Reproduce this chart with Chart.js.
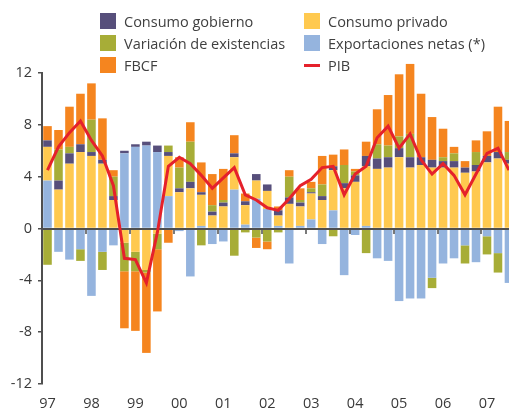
<!DOCTYPE html>
<html>
<head>
<meta charset="utf-8">
<script src="https://cdn.jsdelivr.net/npm/chart.js@4"></script>
<style>
  html, body { margin: 0; padding: 0; overflow: hidden; background: #fff; }
  #wrap { position: relative; width: 520px; height: 410px; }
  #legend {
    position: absolute; left: 100px; top: 13px;
    display: grid; grid-template-columns: 204px auto; row-gap: 6px;
    font-family: "Open Sans", sans-serif; font-size: 14.5px; color: #404040;
  }
  .item { display: flex; align-items: center; height: 16px; white-space: nowrap; }
  .sw { width: 16px; height: 16px; margin-right: 8px; flex: none; }
  .sw.line { height: 3px; }
</style>
</head>
<body>
<div id="wrap">
  <canvas id="chart"></canvas>
  <div id="legend"></div>
</div>
<script>
  const years = ['97','98','99','00','01','02','03','04','05','06','07'];
  const nQuarters = 43; // 97 I - 07 III

  const exportaciones = [3.7,-1.8,-2.4,-1.6,-5.2,-1.8,-1.3,5.8,6.3,6.4,5.9,2.5,-0.2,-3.7,0.2,-1.2,-1.0,3.0,0.3,2.3,1.5,0.2,-2.7,0.2,0.7,-1.2,1.4,-3.6,-0.5,0.2,-2.3,-2.5,-5.6,-5.4,-5.4,-3.8,-2.7,-2.3,-1.3,-2.6,-0.6,-1.9,-4.2];
  const privado = [2.6,3.0,5.0,5.9,5.6,5.0,2.2,-1.1,-1.8,-3.2,-0.4,3.1,2.8,3.1,2.4,1.0,1.7,2.5,1.5,1.4,1.4,0.8,1.9,1.5,2.0,2.2,3.1,3.1,3.6,4.6,4.6,4.7,5.5,4.7,4.9,4.7,4.7,4.7,4.3,4.4,5.1,5.4,5.0];
  const gobierno = [0.5,0.7,0.8,0.6,0.3,0.3,0.3,0.2,0.2,0.3,0.5,0.3,0.3,0.5,0.2,0.3,0.3,0.3,0.3,0.5,0.5,0.4,0.5,0.3,0.1,0.3,0.3,0.4,0.5,0.8,0.8,0.8,0.7,0.8,0.6,0.6,0.5,0.5,0.4,0.5,0.5,0.5,0.3];
  const existencias = [-2.8,2.4,0.5,-0.9,2.5,-1.4,1.5,-2.2,-1.5,-0.2,-1.2,0.5,1.6,3.1,-1.3,0.5,0.2,-2.1,-0.3,-0.7,-1.0,-0.3,1.6,0.2,0.3,0.9,-0.6,1.4,0.3,-1.9,1.1,0.9,0.9,1.8,0,-0.8,0.3,0.6,-1.4,1.0,-1.4,-1.5,0.6];
  const fbcf = [1.1,1.5,3.1,3.9,2.8,3.2,0.5,-4.4,-4.6,-6.2,-4.8,-1.1,0.8,1.5,2.3,2.4,2.4,1.4,0.6,-0.8,-0.6,0.3,0.5,0.9,0.5,2.2,0.9,1.2,0.2,1.1,2.7,3.9,4.8,5.4,4.9,3.3,2.2,0.5,0.5,0.9,1.9,3.5,2.4];
  const pib = [4.5,6.3,7.4,8.3,6.8,5.6,3.3,-2.3,-2.4,-4.2,-0.3,4.8,5.5,5.0,4.1,3.1,3.9,4.7,2.6,2.2,1.6,1.4,2.3,3.3,3.8,4.7,4.8,2.6,4.2,4.8,7.0,7.9,6.2,7.3,5.3,4.2,5.0,4.1,2.6,4.2,5.8,6.2,4.5];

  const yTicks = [12, 8, 4, 0, -4, -8, -12];

  const labels = [];
  years.forEach(y => ['I','II','III','IV'].forEach(q => labels.push(y + ' ' + q)));
  labels.length = nQuarters;

  const colors = {
    gobierno: '#574f7b',
    privado: '#ffc94f',
    existencias: '#a7ad37',
    exportaciones: '#95b4de',
    fbcf: '#f5851f',
    pib: '#e5212b'
  };

  // zero line drawn over the bars, under the PIB line
  const zeroLine = {
    id: 'zeroLine',
    beforeDatasetDraw(chart, args) {
      if (args.meta.type !== 'line') return;
      const {ctx, chartArea, scales: {x, y}} = chart;
      const y0 = Math.round(y.getPixelForValue(0));
      ctx.save();
      ctx.strokeStyle = '#4f4f4f';
      ctx.lineWidth = 2;
      ctx.beginPath();
      ctx.moveTo(chartArea.left, y0);
      ctx.lineTo(chartArea.right, y0);
      ctx.stroke();
      ctx.lineWidth = 1.5;
      ctx.beginPath();
      for (let i = 4; i < labels.length; i += 4) {
        const px = Math.round((x.getPixelForValue(i - 1) + x.getPixelForValue(i)) / 2);
        ctx.moveTo(px, y0);
        ctx.lineTo(px, y0 + 5);
      }
      ctx.stroke();
      ctx.restore();
    }
  };

  const bar = (label, data, color) => ({
    type: 'bar', label, data, backgroundColor: color, clip: false,
    barPercentage: 0.78, categoryPercentage: 1, borderWidth: 0
  });

  const chart = new Chart(document.getElementById('chart'), {
    data: {
      labels,
      datasets: [
        bar('Exportaciones netas (*)', exportaciones, colors.exportaciones),
        bar('Consumo privado', privado, colors.privado),
        bar('Consumo gobierno', gobierno, colors.gobierno),
        bar('Variación de existencias', existencias, colors.existencias),
        bar('FBCF', fbcf, colors.fbcf),
        { type: 'line', label: 'PIB', data: pib, stack: 'pib', order: -1,
          borderColor: colors.pib, backgroundColor: colors.pib, borderWidth: 3,
          pointRadius: 0, tension: 0, fill: false }
      ]
    },
    options: {
      responsive: true,
      maintainAspectRatio: false,
      animation: false,
      layout: { padding: { top: 73, right: 3, left: 0, bottom: 0 } },
      plugins: { legend: { display: false }, tooltip: { enabled: false } },
      scales: {
        x: {
          stacked: true,
          afterFit(scale) { scale.height = 26; },
          grid: { display: false, drawTicks: false },
          border: { display: false },
          ticks: {
            autoSkip: false, maxRotation: 0, padding: 11,
            color: '#3a3a3a', font: { family: 'Open Sans', size: 14.5 },
            callback: (v, i) => i % 4 === 0 ? years[i / 4] : ''
          }
        },
        y: {
          stacked: true,
          min: -12, max: 12,
          afterFit(scale) { scale.width = 42; },
          afterBuildTicks(scale) { scale.ticks = yTicks.map(v => ({ value: v })); },
          grid: { drawOnChartArea: false, drawTicks: true, tickLength: 4, color: '#4f4f4f', lineWidth: 1.5 },
          border: { display: true, color: '#4f4f4f', width: 2 },
          ticks: { padding: 6, color: '#3a3a3a', font: { family: 'Open Sans', size: 14.5 } }
        }
      }
    },
    plugins: [zeroLine]
  });

  // legend in two columns, same order as the original
  const legendOrder = ['Consumo gobierno', 'Consumo privado', 'Variación de existencias',
    'Exportaciones netas (*)', 'FBCF', 'PIB'];
  const legendEl = document.getElementById('legend');
  legendOrder.forEach(name => {
    const ds = chart.data.datasets.find(d => d.label === name);
    const item = document.createElement('div');
    item.className = 'item';
    const sw = document.createElement('span');
    sw.className = 'sw' + (ds.type === 'line' ? ' line' : '');
    sw.style.background = ds.type === 'line' ? ds.borderColor : ds.backgroundColor;
    item.appendChild(sw);
    item.appendChild(document.createTextNode(name));
    legendEl.appendChild(item);
  });
</script>
</body>
</html>
